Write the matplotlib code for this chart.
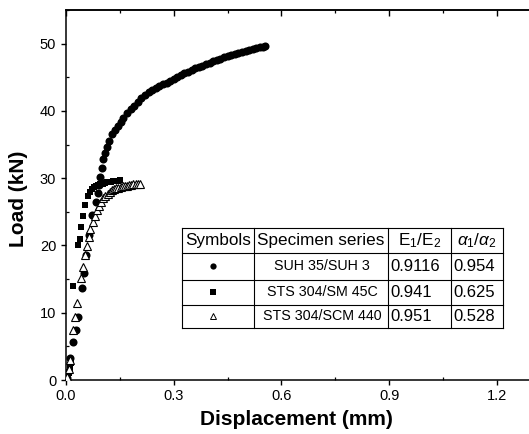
import matplotlib
matplotlib.use("Agg")
import matplotlib.pyplot as plt
from matplotlib.lines import Line2D
from matplotlib.patches import Rectangle
from matplotlib.ticker import MultipleLocator

plt.rcParams['font.family'] = ['Liberation Sans', 'DejaVu Sans']
plt.rcParams['mathtext.fontset'] = 'custom'
plt.rcParams['mathtext.rm'] = 'Liberation Sans'
plt.rcParams['mathtext.it'] = 'Liberation Sans:italic'

# ---------------- data ----------------
suh_x = [0.003, 0.006, 0.011, 0.020, 0.028, 0.034, 0.044, 0.050, 0.057, 0.064, 0.072,
         0.084, 0.088, 0.091, 0.094, 0.099, 0.104, 0.109, 0.114,
         0.120, 0.128, 0.136, 0.144, 0.152, 0.160, 0.170, 0.180, 0.190, 0.200,
         0.210, 0.220, 0.230, 0.240, 0.250, 0.260, 0.270, 0.280, 0.290, 0.300,
         0.310, 0.320, 0.330, 0.340, 0.350, 0.360, 0.370, 0.380, 0.390, 0.400,
         0.410, 0.420, 0.430, 0.440, 0.450, 0.460, 0.470, 0.480, 0.490, 0.500,
         0.510, 0.520, 0.530, 0.540, 0.550, 0.555]
suh_y = [0.3, 1.2, 3.2, 5.6, 7.4, 9.4, 13.7, 15.9, 18.6, 21.5, 24.6,
         26.5, 27.8, 29.0, 30.2, 31.5, 32.8, 33.8, 34.7,
         35.6, 36.5, 37.2, 37.8, 38.4, 39.0, 39.7, 40.3, 40.8, 41.3,
         41.9, 42.4, 42.8, 43.1, 43.4, 43.7, 43.95, 44.2, 44.5, 44.8,
         45.1, 45.35, 45.6, 45.85, 46.1, 46.35, 46.55, 46.75, 46.95, 47.15,
         47.35, 47.55, 47.75, 47.95, 48.15, 48.3, 48.5, 48.65, 48.8, 48.95,
         49.1, 49.2, 49.35, 49.45, 49.55, 49.6]

sts45_x = [0.004, 0.008, 0.011, 0.013, 0.020, 0.033, 0.038, 0.043, 0.048, 0.053,
           0.060, 0.066, 0.072, 0.078, 0.084, 0.090, 0.096, 0.102, 0.108, 0.114,
           0.120, 0.126, 0.132, 0.138, 0.144, 0.150]
sts45_y = [0.4, 1.0, 1.8, 2.6, 13.9, 20.1, 21.0, 22.8, 24.4, 26.0,
           27.3, 28.0, 28.4, 28.7, 28.9, 29.0, 29.1, 29.2, 29.3, 29.4,
           29.45, 29.5, 29.55, 29.6, 29.65, 29.7]

scm_x = [0.004, 0.009, 0.012, 0.020, 0.025, 0.031, 0.041, 0.046, 0.053, 0.058,
         0.063, 0.068, 0.074, 0.080, 0.086, 0.092, 0.098, 0.104, 0.110, 0.116,
         0.122, 0.128, 0.134, 0.140, 0.146, 0.152, 0.158, 0.164, 0.170, 0.176,
         0.182, 0.188, 0.194, 0.200, 0.205]
scm_y = [0.4, 1.7, 2.9, 7.4, 9.4, 11.5, 15.2, 16.8, 18.6, 19.9,
         21.2, 22.5, 23.5, 24.4, 25.2, 25.9, 26.5, 27.0, 27.4, 27.7,
         28.0, 28.2, 28.4, 28.5, 28.6, 28.7, 28.8, 28.85, 28.9, 29.0,
         29.05, 29.1, 29.15, 29.2, 29.2]

table_header = ["Symbols", "Specimen series", r"E$_1$/E$_2$", r"$\alpha_1/\alpha_2$"]
series_names = ["SUH 35/SUH 3", "STS 304/SM 45C", "STS 304/SCM 440"]
e_ratio = ["0.9116", "0.941", "0.951"]
alpha_ratio = ["0.954", "0.625", "0.528"]

x_ticks = [0.0, 0.3, 0.6, 0.9, 1.2]
y_ticks = [0, 10, 20, 30, 40, 50]

# ---------------- figure ----------------
W, H = 529, 434
fig = plt.figure(figsize=(W / 100, H / 100), dpi=100)


def fx(px):
    return px / W


def fy(py):
    return 1 - py / H


ax_left, ax_right, ax_top, ax_bottom = 66, 532.7, 10, 380
ax = fig.add_axes([fx(ax_left), fy(ax_bottom), fx(ax_right - ax_left), (ax_bottom - ax_top) / H])

ax.plot(suh_x, suh_y, 'o', color='black', markersize=5.8, markeredgewidth=0, zorder=3)
ax.plot(sts45_x, sts45_y, 's', color='black', markersize=5.0, markeredgewidth=0, zorder=3)
ax.plot(scm_x, scm_y, '^', markerfacecolor='white', markeredgecolor='black',
        markersize=5.8, markeredgewidth=0.8, zorder=4)

ax.set_xlim(0, 1.3)
ax.set_ylim(0, 55)
ax.set_xticks(x_ticks)
ax.set_xticklabels([f"{v:.1f}" for v in x_ticks])
ax.set_yticks(y_ticks)
ax.xaxis.set_minor_locator(MultipleLocator(0.15))
ax.yaxis.set_minor_locator(MultipleLocator(5))

for s in ax.spines.values():
    s.set_linewidth(1.1)
ax.spines['right'].set_visible(False)

ax.tick_params(axis='both', which='major', direction='out', length=3.5, width=1.0,
               labelsize=10.5, pad=3)
ax.tick_params(axis='both', which='minor', direction='in', length=2.5, width=0.9)
ax.tick_params(axis='y', which='major', pad=3.5)

top = ax.secondary_xaxis('top')
top.set_xticks(x_ticks)
top.xaxis.set_minor_locator(MultipleLocator(0.15))
top.tick_params(axis='x', which='major', direction='in', length=4.5, width=1.0, labeltop=False)
top.tick_params(axis='x', which='minor', direction='in', length=2.5, width=0.9)
top.spines['top'].set_linewidth(1.1)

ax.set_xlabel("Displacement (mm)", fontsize=15, fontweight='bold')
ax.set_ylabel("Load (kN)", fontsize=15, fontweight='bold')
ax.xaxis.set_label_coords(0.494, -0.082)
ax.yaxis.set_label_coords(-0.081, 0.49)

# ---------------- table ----------------
t_left, t_right = 182, 503
col_edges = [182, 254, 388, 451, 503]
row_edges = [228, 253, 280, 305, 328]

fig.add_artist(Rectangle((fx(t_left), fy(row_edges[-1])), fx(t_right - t_left),
                         (row_edges[-1] - row_edges[0]) / H, facecolor='white',
                         edgecolor='none', transform=fig.transFigure, zorder=5))
for xe in col_edges:
    fig.add_artist(Line2D([fx(xe), fx(xe)], [fy(row_edges[0]), fy(row_edges[-1])],
                          color='black', lw=0.8, transform=fig.transFigure, zorder=6))
for ye in row_edges:
    fig.add_artist(Line2D([fx(t_left), fx(t_right)], [fy(ye), fy(ye)],
                          color='black', lw=0.8, transform=fig.transFigure, zorder=6))

hfs, nfs, vfs = 12.3, 10.3, 12
rc = [(row_edges[i] + row_edges[i + 1]) / 2 for i in range(len(row_edges) - 1)]
for j in range(4):
    fig.text(fx((col_edges[j] + col_edges[j + 1]) / 2), fy(rc[0]), table_header[j],
             ha='center', va='center', fontsize=hfs, zorder=7)

marker_styles = [dict(marker='o', color='black', markersize=4.5, markeredgewidth=0),
                 dict(marker='s', color='black', markersize=4.0, markeredgewidth=0),
                 dict(marker='^', markerfacecolor='white', markeredgecolor='black',
                      markersize=5.0, markeredgewidth=0.7)]
for i in range(3):
    yc = rc[i + 1]
    fig.add_artist(Line2D([fx(213)], [fy(yc - 1)], linestyle='none', transform=fig.transFigure,
                          zorder=7, **marker_styles[i]))
    fig.text(fx((col_edges[1] + col_edges[2]) / 2 + 1), fy(yc), series_names[i], ha='center',
             va='center', fontsize=nfs, zorder=7)
    fig.text(fx(col_edges[2] + 2), fy(yc), e_ratio[i], ha='left', va='center', fontsize=vfs, zorder=7)
    fig.text(fx(col_edges[3] + 2), fy(yc), alpha_ratio[i], ha='left', va='center', fontsize=vfs, zorder=7)

fig.savefig("out.png", dpi=100)
